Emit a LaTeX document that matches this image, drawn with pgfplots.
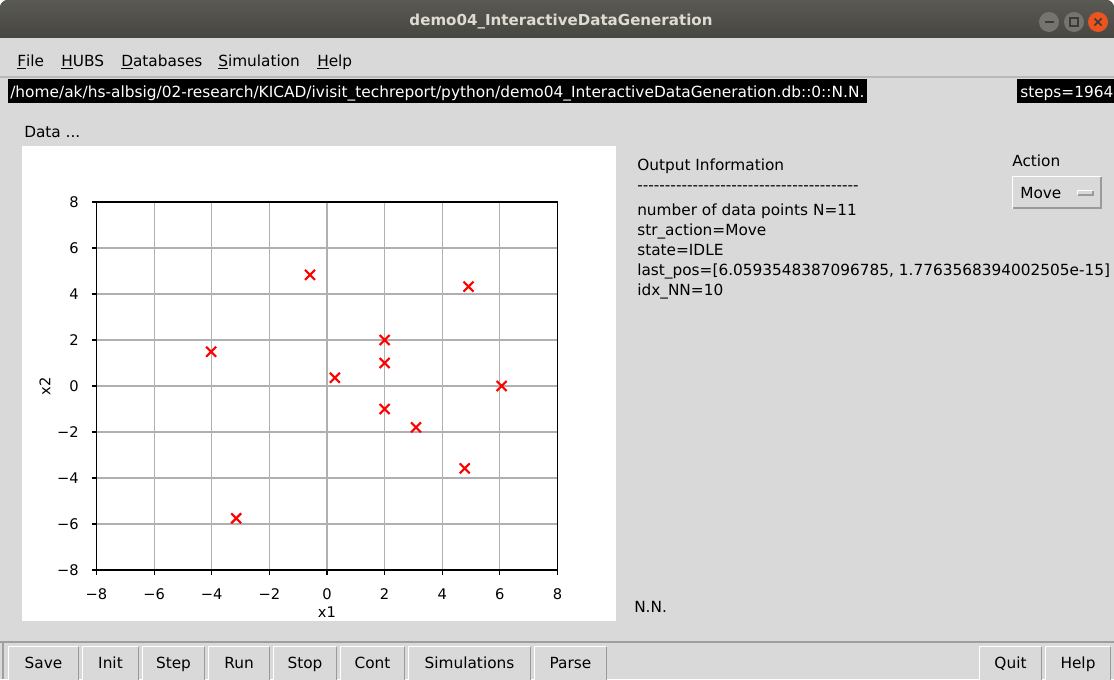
\documentclass[border=0pt]{standalone}
\usepackage{pgfplots}
\pgfplotsset{compat=1.18}
\usepackage{graphicx}
\usepackage{fontspec}
\setmainfont{DejaVu Sans}

\definecolor{bg}{HTML}{D9D9D9}
\definecolor{titletop}{HTML}{5A5953}
\definecolor{titlebot}{HTML}{3C3B37}
\definecolor{titletext}{HTML}{DFDBD2}
\definecolor{btnlo}{HTML}{9A9A9A}
\definecolor{gridc}{HTML}{B0B0B0}
\definecolor{winbtn}{HTML}{75746E}
\definecolor{winsym}{HTML}{3C3B37}
\definecolor{closebtn}{HTML}{E95420}

\newlength\px \setlength\px{0.75pt}
\newcommand\gui{\fontsize{11.5pt}{13pt}\selectfont}
\newcommand\tickf{\fontsize{11pt}{13pt}\selectfont}

% raised Tk button, bottom edge is cut off by the window
\newcommand\btn[3]{%
  \fill[bg] (#1,646) rectangle (#2,680);
  \draw[white, line width=1.1pt] (#1+0.75,680) -- (#1+0.75,646.75) -- (#2-0.75,646.75);
  \draw[btnlo, line width=1.1pt] (#2-0.75,646.75) -- (#2-0.75,680);
  \node[anchor=base, inner sep=0pt] at ({(#1+#2)/2},668) {\gui #3};
}

\begin{document}
\begin{tikzpicture}[x=0.75pt, y=-0.75pt]
% window
\fill[white] (0,0) rectangle (1114,679);
\fill[top color=titletop, bottom color=titlebot, rounded corners=6pt] (0,0) rectangle (1114,60);
\fill[bg] (0,38) rectangle (1114,679);
\node[inner sep=0pt] at (561,22) {\bfseries\color{titletext}\resizebox{303\px}{!}{demo04\_InteractiveDataGeneration}};

% window controls
\fill[winbtn] (1049,22) circle[radius=7.5pt];
\draw[winsym, line width=1.2pt] (1044.5,22) -- (1053.5,22);
\fill[winbtn] (1074,22) circle[radius=7.5pt];
\draw[winsym, line width=1pt] (1070,18) rectangle (1078,26);
\fill[closebtn] (1098,22) circle[radius=7.5pt];
\draw[winsym, line width=1.1pt] (1094.5,18.5) -- (1101.5,25.5) (1094.5,25.5) -- (1101.5,18.5);

% menu
\draw[color=gray!55, line width=0.8pt] (0,77) -- (1114,77);
\node[anchor=base west, inner sep=0pt] at (17,66) {\gui\underline{F}ile};
\node[anchor=base west, inner sep=0pt] at (61,66) {\gui\underline{H}UBS};
\node[anchor=base west, inner sep=0pt] at (121,66) {\gui\underline{D}atabases};
\node[anchor=base west, inner sep=0pt] at (218,66) {\gui\underline{S}imulation};
\node[anchor=base west, inner sep=0pt] at (317,66) {\gui\underline{H}elp};

% status line
\fill[black] (8,79) rectangle (867,103);
\node[anchor=base west, inner sep=0pt, text=white] at (10,97) {\resizebox{854\px}{!}{\gui /home/ak/hs-albsig/02-research/KICAD/ivisit\_techreport/python/demo04\_InteractiveDataGeneration.db::0::N.N.}};
\fill[black] (1017,79) rectangle (1114,103);
\node[anchor=base west, inner sep=0pt, text=white] at (1020,97) {\gui steps=1964};

\node[anchor=base west, inner sep=0pt] at (24,137) {\gui Data ...};
\fill[white] (22,146) rectangle (616,621);

% output information
\node[anchor=base west, inner sep=0pt] at (637,170) {\gui Output Information};
\node[anchor=base west, inner sep=0pt] at (637,190) {\gui\foreach \i in {1,...,40}{-\kern0pt}};
\node[anchor=base west, inner sep=0pt] at (637,215) {\gui number of data points N=11};
\node[anchor=base west, inner sep=0pt] at (637,235) {\gui str\_action=Move};
\node[anchor=base west, inner sep=0pt] at (637,255) {\gui state=IDLE};
\node[anchor=base west, inner sep=0pt] at (637,275) {\gui last\_pos=[6.0593548387096785, 1.7763568394002505e-15]};
\node[anchor=base west, inner sep=0pt] at (637,295) {\gui idx\_NN=10};
\node[anchor=base west, inner sep=0pt] at (634,612) {\gui N.N.};

% action menu
\node[anchor=base west, inner sep=0pt] at (1012,166) {\gui Action};
\draw[white, line width=1.1pt] (1012.75,208.5) -- (1012.75,176.75) -- (1101.25,176.75);
\draw[btnlo, line width=1.5pt] (1101,176.75) -- (1101,208.25) -- (1012.75,208.25);
\node[anchor=base west, inner sep=0pt] at (1020,198) {\gui Move};
\draw[white, line width=0.8pt] (1077.5,195) -- (1077.5,190.5) -- (1093,190.5);
\draw[btnlo, line width=0.8pt] (1093,190.5) -- (1093,195) -- (1077.5,195);

% buttons
\draw[color=gray!75, line width=1.2pt] (0,642) -- (1114,642);
\draw[color=gray!75, line width=0.8pt] (3,642) -- (3,679);
\btn{8}{79}{Save}
\btn{82}{139}{Init}
\btn{142}{205}{Step}
\btn{208}{270}{Run}
\btn{273}{337}{Stop}
\btn{340}{405}{Cont}
\btn{408}{531}{Simulations}
\btn{534}{607}{Parse}
\btn{979}{1042}{Quit}
\btn{1045}{1111}{Help}

% the plot
\begin{scope}[x=1cm, y=1cm]
\begin{axis}[
  at={(72.375pt,-427.5pt)}, anchor=south west,
  scale only axis, width=345.75pt, height=276pt,
  xmin=-8, xmax=8, ymin=-8, ymax=8,
  xtick={-8,-6,...,8}, ytick={-8,-6,...,8},
  xticklabels={−8,−6,−4,−2,0,2,4,6,8},
  yticklabels={−8,−6,−4,−2,0,2,4,6,8},
  tick pos=left, tick align=outside, major tick length=3.7pt,
  tick style={black, line width=0.8pt},
  axis line style={black, line width=0.8pt},
  grid=major, grid style={gridc, line width=0.8pt},
  xticklabel style={font=\tickf, inner sep=0pt, anchor=north, yshift=-10.2pt},
  yticklabel style={font=\tickf, inner sep=0pt, anchor=east, xshift=-9.4pt},
  xlabel={x1}, ylabel={x2},
  label style={font=\tickf},
  xlabel style={at={(axis description cs:0.5,-0.1133)}, anchor=center},
  ylabel style={at={(axis description cs:-0.1117,0.5)}, anchor=center},
]
\addplot[only marks, mark=x, mark size=5.3pt, red, mark options={line width=1.6pt}]
coordinates {
  (-0.59, 4.83)
  (4.91, 4.32)
  (-4.02, 1.49)
  (2.0, 2.0)
  (2.0, 1.0)
  (0.27, 0.36)
  (6.06, 0.0)
  (2.0, -1.0)
  (3.09, -1.8)
  (4.78, -3.58)
  (-3.15, -5.75)
};
\end{axis}
\end{scope}
\pgfresetboundingbox
\useasboundingbox (0,0) rectangle (1114,679);
\end{tikzpicture}
\end{document}
